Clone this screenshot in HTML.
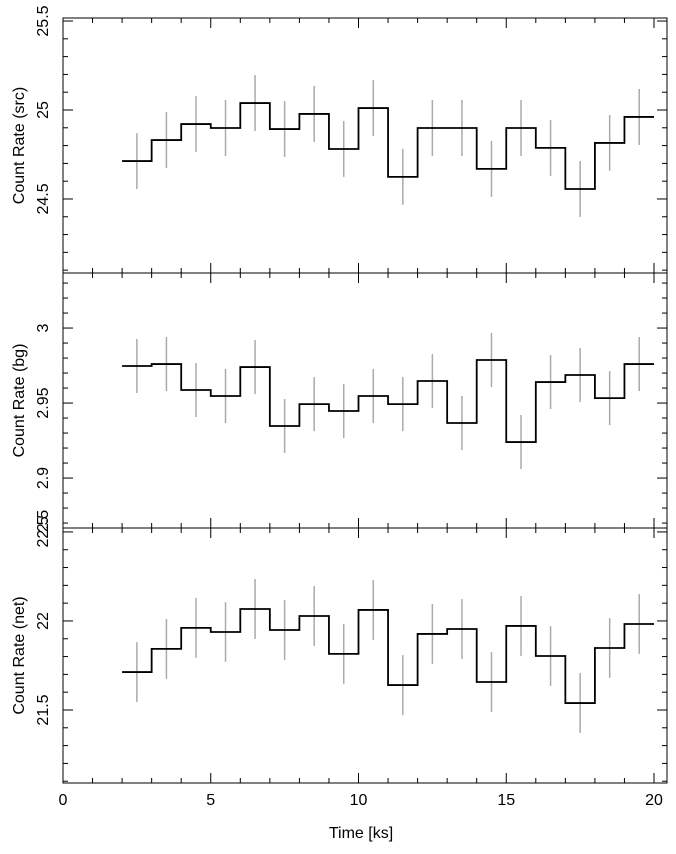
<!DOCTYPE html>
<html><head><meta charset="utf-8"><style>
body{margin:0;background:#fff;}
svg{display:block;font-family:"Liberation Sans",sans-serif;}
</style></head><body>
<svg id="chart" width="676" height="854"></svg>
<script>
const binStarts=[2,3,4,5,6,7,8,9,10,11,12,13,14,15,16,17,18,19];
const binWidth=1;
const srcRates=[24.713,24.831,24.921,24.899,25.039,24.893,24.978,24.781,25.011,24.624,24.899,24.899,24.669,24.899,24.787,24.556,24.815,24.961];
const srcErr=0.157;
const bgRates=[2.9747,2.976,2.9587,2.9547,2.974,2.9347,2.9493,2.9447,2.9547,2.9493,2.9647,2.9367,2.9787,2.924,2.964,2.9687,2.9533,2.976];
const bgErr=0.018;
const netRates=[21.713,21.843,21.961,21.938,22.067,21.949,22.028,21.815,22.062,21.640,21.927,21.955,21.657,21.972,21.803,21.539,21.848,21.983];
const netErr=0.168;
const xTickLabels=[0,5,10,15,20];
const srcTickLabels=["24.5","25","25.5"];
const bgTickLabels=["2.9","2.95","3"];
const netTickLabels=["21.5","22","22.5"];

const NS="http://www.w3.org/2000/svg";
const svg=document.getElementById('chart');
function mk(t,a,p){const e=document.createElementNS(NS,t);for(const k in a)e.setAttribute(k,a[k]);(p||svg).appendChild(e);return e;}
const X0=63,X1=667;
const xs=v=>63+v*29.55;

const panels=[
 {name:'src',top:18,bot:273,ymin:24.084,ymax:25.517,minor:0.1,major:0.5,data:srcRates,err:srcErr,ticks:srcTickLabels,title:'Count Rate (src)'},
 {name:'bg',top:273,bot:528,ymin:2.8667,ymax:3.0367,minor:0.01,major:0.05,data:bgRates,err:bgErr,ticks:bgTickLabels,title:'Count Rate (bg)'},
 {name:'net',top:528,bot:783,ymin:21.09,ymax:22.522,minor:0.1,major:0.5,data:netRates,err:netErr,ticks:netTickLabels,title:'Count Rate (net)'}
];
panels.forEach((p,pi)=>{
 const g=mk('g',{});
 
 
 const ys=v=>p.bot-(v-p.ymin)/(p.ymax-p.ymin)*(p.bot-p.top);
 const fr=mk('rect',{x:X0,y:p.top,width:X1-X0,height:p.bot-p.top,fill:'none',stroke:'#000','stroke-width':1},g);
 
 
 // y ticks
 const start=Math.ceil(p.ymin/p.minor-1e-6);
 for(let i=start;i*p.minor<=p.ymax+1e-9;i++){
  const v=i*p.minor,y=ys(v);
  const isMaj=Math.abs(v/p.major-Math.round(v/p.major))<1e-6;
  const L=isMaj?10:5;
  mk('line',{x1:X0,x2:X0+L,y1:y,y2:y,stroke:'#000'},g);
  mk('line',{x1:X1,x2:X1-L,y1:y,y2:y,stroke:'#000'},g);
 }
 p.ticks.forEach(t=>{
  const y=ys(parseFloat(t));
  const tx=mk('text',{x:48,y:y,'font-size':16,'text-anchor':'middle',transform:`rotate(-90 48 ${y})`},g);
  
  
  tx.textContent=t;
 });
 const yt=(p.top+p.bot)/2;
 const title=mk('text',{x:24,y:yt,'font-size':16,'text-anchor':'middle',transform:`rotate(-90 24 ${yt})`},g);
 
 
 title.textContent=p.title;
 // x ticks
 for(let v=0;v<=20;v++){
  const x=xs(v),L=v%5===0?10:5;
  mk('line',{x1:x,x2:x,y1:p.bot,y2:p.bot-L,stroke:'#000'},g);
  mk('line',{x1:x,x2:x,y1:p.top,y2:p.top+L,stroke:'#000'},g);
 }
 // error bars
 p.data.forEach((v,i)=>{
  const x=xs(binStarts[i]+binWidth/2);
  const eb=mk('line',{x1:x,x2:x,y1:ys(v+p.err),y2:ys(v-p.err),stroke:'#aaa','stroke-width':1.5},g);
  
  
 });
 // step line
 let d='';
 p.data.forEach((v,i)=>{
  const xa=xs(binStarts[i]),xb=xs(binStarts[i]+binWidth),y=ys(v);
  d+=(i===0?'M':'L')+xa+' '+y+' L'+xb+' '+y+' ';
 });
 const st=mk('path',{d:d,fill:'none',stroke:'#000','stroke-width':1.8},g);
 
 
});
const bl=mk('text',{x:48,y:521,'font-size':16,'text-anchor':'middle',transform:'rotate(-90 48 521)'});


bl.textContent='2.5';
xTickLabels.forEach(t=>{
 const tx=mk('text',{x:xs(t),y:805,'font-size':16,'text-anchor':'middle'});
 
 
 tx.textContent=t;
});
const xt=mk('text',{x:361,y:838,'font-size':16,'text-anchor':'middle'});


xt.textContent='Time [ks]';
</script>
</body></html>
